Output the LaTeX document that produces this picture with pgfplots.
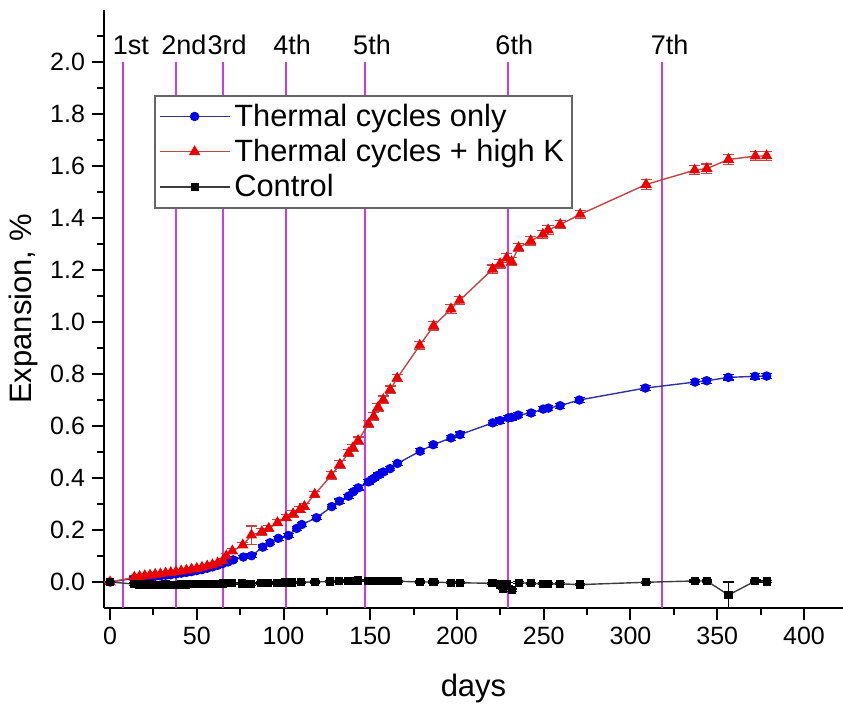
\documentclass[border=0pt]{standalone}
\usepackage{pgfplots}
\pgfplotsset{compat=1.18}
\usepackage{pgfplotstable}
\usepackage{fontspec}
\setmainfont{Liberation Sans}

\definecolor{cyc}{RGB}{200,60,225}
\definecolor{redm}{RGB}{235,0,0}
\definecolor{redl}{RGB}{190,70,70}
\definecolor{bluem}{RGB}{0,0,230}
\definecolor{bluel}{RGB}{50,50,160}
\definecolor{blackl}{RGB}{60,60,60}

\pgfplotstableread{
x y e
0 0 0.002
14 0.018 0.006
17 0.021 0.006
20 0.024 0.006
23 0.026 0.006
26 0.029 0.006
29 0.031 0.006
32 0.034 0.006
35 0.036 0.006
38 0.039 0.006
41 0.042 0.006
44 0.045 0.006
47 0.049 0.006
50 0.052 0.006
53 0.056 0.006
56 0.061 0.006
59 0.066 0.007
62 0.073 0.007
65 0.082 0.008
67 0.100 0.010
70.5 0.119 0.010
76.5 0.142 0.010
81.5 0.180 0.035
87.5 0.193 0.012
91.5 0.206 0.012
96.5 0.228 0.012
101.5 0.247 0.012
105.5 0.262 0.012
109.5 0.279 0.012
112 0.290 0.012
118 0.337 0.012
127.5 0.410 0.014
132.5 0.452 0.014
137.5 0.496 0.014
140 0.516 0.014
143 0.544 0.014
149 0.608 0.014
152 0.637 0.014
154.5 0.672 0.014
157.5 0.701 0.014
161.5 0.740 0.014
165.5 0.784 0.014
178.5 0.910 0.016
186.5 0.985 0.016
196.5 1.050 0.016
201.5 1.083 0.016
220.5 1.203 0.016
224.8 1.224 0.016
228.6 1.246 0.016
231.5 1.232 0.016
235.5 1.286 0.016
242.5 1.312 0.016
249.5 1.337 0.016
252.5 1.354 0.016
259.5 1.375 0.016
271 1.414 0.016
309 1.529 0.018
337 1.584 0.018
344 1.590 0.018
356.5 1.625 0.018
372 1.638 0.018
378.5 1.639 0.018
}\redtab

\pgfplotstableread{
x y e
0 0 0.002
14 0.014 0.005
17 0.016 0.005
20 0.018 0.005
23 0.020 0.005
26 0.022 0.005
29 0.024 0.005
32 0.026 0.005
35 0.028 0.005
38 0.031 0.005
41 0.034 0.005
44 0.037 0.005
47 0.040 0.005
50 0.044 0.005
53 0.048 0.005
56 0.053 0.005
59 0.058 0.006
62 0.064 0.006
65 0.071 0.006
68 0.077 0.006
71 0.085 0.007
76.8 0.096 0.007
81.6 0.101 0.007
88 0.134 0.008
92.2 0.151 0.008
97 0.168 0.008
102.8 0.179 0.008
107.6 0.206 0.008
110.5 0.221 0.008
119 0.247 0.008
127.8 0.290 0.008
132.2 0.311 0.008
137.4 0.330 0.008
140.2 0.347 0.008
143.1 0.362 0.008
148.9 0.385 0.008
151.8 0.398 0.008
154.7 0.411 0.008
157.5 0.423 0.008
161.4 0.436 0.008
165.6 0.456 0.008
178.7 0.503 0.010
186.3 0.528 0.010
196.5 0.554 0.010
201.7 0.567 0.010
220.6 0.612 0.010
224.8 0.621 0.010
229.6 0.631 0.010
231.5 0.633 0.010
235.3 0.642 0.010
242.7 0.650 0.010
249.7 0.665 0.010
252.6 0.669 0.010
259.4 0.678 0.010
270.5 0.700 0.010
308.6 0.746 0.010
337.2 0.769 0.010
343.9 0.774 0.010
356.4 0.787 0.010
371.8 0.791 0.010
378.5 0.792 0.010
}\bluetab

\pgfplotstableread{
x y e
0 0 0.003
14 -0.008 0.004
17 -0.010 0.004
20 -0.010 0.004
23 -0.010 0.004
26 -0.011 0.004
29 -0.011 0.004
32 -0.010 0.004
35 -0.011 0.004
38 -0.012 0.004
41 -0.010 0.004
44 -0.010 0.004
47 -0.009 0.004
50 -0.009 0.004
53 -0.008 0.004
56 -0.008 0.004
59 -0.007 0.004
62 -0.007 0.004
65 -0.006 0.004
70 -0.005 0.004
76 -0.006 0.004
81 -0.008 0.004
87 -0.004 0.004
91 -0.004 0.004
96 -0.003 0.004
101 -0.002 0.004
105 -0.002 0.004
110 -0.001 0.004
118 0.000 0.004
127 0.002 0.004
132 0.003 0.004
137 0.004 0.004
140 0.005 0.004
143 0.006 0.004
149 0.005 0.004
152 0.005 0.004
155 0.004 0.004
158 0.004 0.004
162 0.003 0.004
166 0.003 0.004
178.5 0.000 0.004
186.5 0.000 0.004
196.5 -0.003 0.004
201.5 -0.003 0.004
220.5 -0.005 0.004
224.8 -0.010 0.005
226.5 -0.025 0.005
229 -0.008 0.005
231.7 -0.032 0.005
235.5 -0.003 0.004
242.5 -0.005 0.004
249.5 -0.007 0.004
252.5 -0.007 0.004
259.5 -0.007 0.004
271 -0.010 0.004
309 -0.001 0.004
337 0.004 0.004
344 0.004 0.004
356.5 -0.050 0.050
372 0.004 0.004
378.5 0.002 0.004
}\ctrltab

\begin{document}
\begin{tikzpicture}
\begin{axis}[
  name=ax,
  scale only axis,
  width=369.5pt, height=299pt,
  xmin=-3.5, xmax=422.5,
  ymin=-0.1, ymax=2.2,
  axis x line*=bottom, axis y line*=left,
  axis line style={line width=1.2pt, black},
  xtick={0,50,100,150,200,250,300,350,400},
  minor xtick={25,75,125,175,225,275,325,375},
  ytick={0,0.2,0.4,0.6,0.8,1.0,1.2,1.4,1.6,1.8,2.0},
  minor ytick={0.1,0.3,0.5,0.7,0.9,1.1,1.3,1.5,1.7,1.9,2.1},
  tick align=outside,
  major tick length=6pt, minor tick length=3.5pt,
  every tick/.style={line width=1pt, black},
  /pgf/number format/assume math mode=true,
  yticklabel style={/pgf/number format/fixed, /pgf/number format/fixed zerofill, /pgf/number format/precision=1},
  ticklabel style={font=\fontsize{12.5}{15}\selectfont},
  xlabel={days}, ylabel={Expansion, \%},
  every axis x label/.style={at={(axis description cs:0.5,-0.1338)}, anchor=center, font=\fontsize{15.5}{18}\selectfont},
  every axis y label/.style={at={(axis description cs:-0.1083,0.5)}, anchor=center, rotate=90, font=\fontsize{15.5}{18}\selectfont},
  clip=false,
  legend style={at={(axis cs:25.4,1.873)}, anchor=north west, draw=black!60, line width=0.8pt,
    fill=white, font=\fontsize{15.4}{18}\selectfont, inner sep=2pt, row sep=1pt},
  legend cell align=left,
  legend image code/.code={\draw[mark repeat=2,mark phase=2] plot coordinates {(0pt,0pt) (17.5pt,0pt) (35pt,0pt)};},
]
% cycle lines
\addplot[cyc, line width=1pt, forget plot] coordinates {(7.5,-0.1) (7.5,2.0)};
\addplot[cyc, line width=1pt, forget plot] coordinates {(38,-0.1) (38,2.0)};
\addplot[cyc, line width=1pt, forget plot] coordinates {(65,-0.1) (65,2.0)};
\addplot[cyc, line width=1pt, forget plot] coordinates {(101.5,-0.1) (101.5,2.0)};
\addplot[cyc, line width=1pt, forget plot] coordinates {(147,-0.1) (147,2.0)};
\addplot[cyc, line width=1pt, forget plot] coordinates {(229.5,-0.1) (229.5,2.0)};
\addplot[cyc, line width=1pt, forget plot] coordinates {(318,-0.1) (318,2.0)};

\addplot[bluel, line width=0.7pt, mark=*, mark size=2pt, mark options={solid, fill=bluem, draw=bluem},
  error bars/.cd, y dir=both, y explicit,
  error bar style={bluem, line width=0.6pt}, error mark options={rotate=90, bluem, mark size=2.6pt, line width=0.6pt}]
  table[x=x, y=y, y error=e]{\bluetab};
\addlegendentry{Thermal cycles only}

\addplot[redl, line width=0.7pt, mark=triangle*, mark size=2.6pt, mark options={solid, fill=redm, draw=redm},
  error bars/.cd, y dir=both, y explicit,
  error bar style={redl, line width=0.6pt}, error mark options={rotate=90, redl, mark size=2.8pt, line width=0.6pt}]
  table[x=x, y=y, y error=e]{\redtab};
\addlegendentry{Thermal cycles + high K}

\addplot[blackl, line width=0.7pt, mark=square*, mark size=1.7pt, mark options={solid, fill=black, draw=black},
  error bars/.cd, y dir=both, y explicit,
  error bar style={black, line width=0.6pt}, error mark options={rotate=90, black, mark size=2.6pt, line width=0.6pt}]
  table[x=x, y=y, y error=e]{\ctrltab};
\addlegendentry{Control}

\begin{scope}[every node/.style={font=\fontsize{13.5}{16}\selectfont, anchor=center}]
\node at (axis cs:12,2.065) {1st};
\node at (axis cs:42.5,2.065) {2nd};
\node at (axis cs:67.5,2.065) {3rd};
\node at (axis cs:105,2.065) {4th};
\node at (axis cs:151,2.065) {5th};
\node at (axis cs:233,2.065) {6th};
\node at (axis cs:322.5,2.065) {7th};
\end{scope}
\end{axis}
\pgfresetboundingbox
\path ([shift={(-52pt,-49.5pt)}]ax.south west) rectangle ([shift={(0pt,5pt)}]ax.north east);
\end{tikzpicture}
\end{document}
